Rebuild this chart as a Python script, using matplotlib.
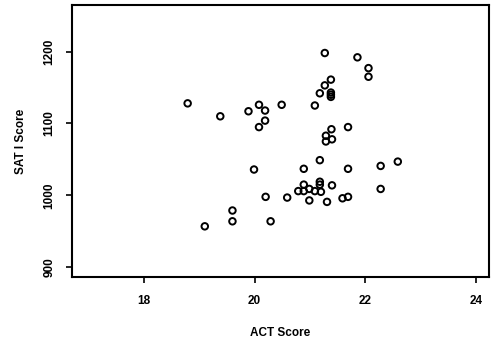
"""
    plot.py
    ~~~~~~~

    ACT Score と SAT I Score の散布図 (R 風の体裁)。
"""

import numpy as np
from matplotlib import pyplot as plt

# data
act_score = [
    18.79, 19.38, 19.89, 20.08, 20.19, 20.08, 20.19, 20.49, 21.09, 21.18,
    21.27, 21.38, 21.27, 21.38, 21.38, 21.38, 21.86, 22.06, 22.06, 21.39,
    21.29, 21.29, 21.40, 21.69, 21.18, 20.89, 19.99, 21.69, 22.28, 22.59,
    22.28, 21.18, 21.18, 21.20, 21.40, 20.89, 20.89, 20.79, 20.99, 21.09,
    20.99, 21.31, 21.59, 21.69, 20.20, 20.59, 19.60, 19.60, 19.10, 20.29,
]
sat_score = [
    1128, 1110, 1117, 1126, 1118, 1095, 1104, 1126, 1125, 1142,
    1153, 1161, 1198, 1143, 1140, 1137, 1192, 1177, 1165, 1092,
    1083, 1075, 1078, 1095, 1049, 1037, 1036, 1037, 1041, 1047,
    1009, 1019, 1015, 1005, 1014, 1015, 1006, 1006, 1009, 1006,
    993, 991, 996, 998, 998, 997, 979, 964, 957, 964,
]
x_ticks = [18, 20, 22, 24]
y_ticks = [900, 1000, 1100, 1200]


def main():
    plt.rcParams['font.family'] = ['Liberation Sans', 'DejaVu Sans']
    plt.rcParams['font.weight'] = 'bold'

    fig = plt.figure(figsize=(4.97, 3.45), dpi=100)
    ax = fig.add_axes([0.145, 0.197, 0.839, 0.789])

    ax.scatter(act_score, sat_score, s=22, facecolors='none',
               edgecolors='black', linewidths=1.4)

    ax.set_xlim(16.70, 24.24)
    ax.set_ylim(886.5, 1265)
    ax.set_xticks(x_ticks)
    ax.set_yticks(y_ticks)
    ax.set_xticklabels([str(t) for t in x_ticks], fontsize=8.5)
    ax.set_yticklabels([str(t) for t in y_ticks], fontsize=8.5,
                       rotation=90, va='center')
    ax.tick_params(axis='x', length=4, width=1.2, pad=9)
    ax.tick_params(axis='y', length=4, width=1.2, pad=8)
    for spine in ax.spines.values():
        spine.set_linewidth(1.5)

    ax.set_xlabel('ACT Score', fontsize=8.5, fontweight='bold', labelpad=14)
    ax.set_ylabel('SAT I Score', fontsize=8.5, fontweight='bold', labelpad=12)

    fig.savefig('out.png', dpi=100)


if __name__ == '__main__':
    main()
